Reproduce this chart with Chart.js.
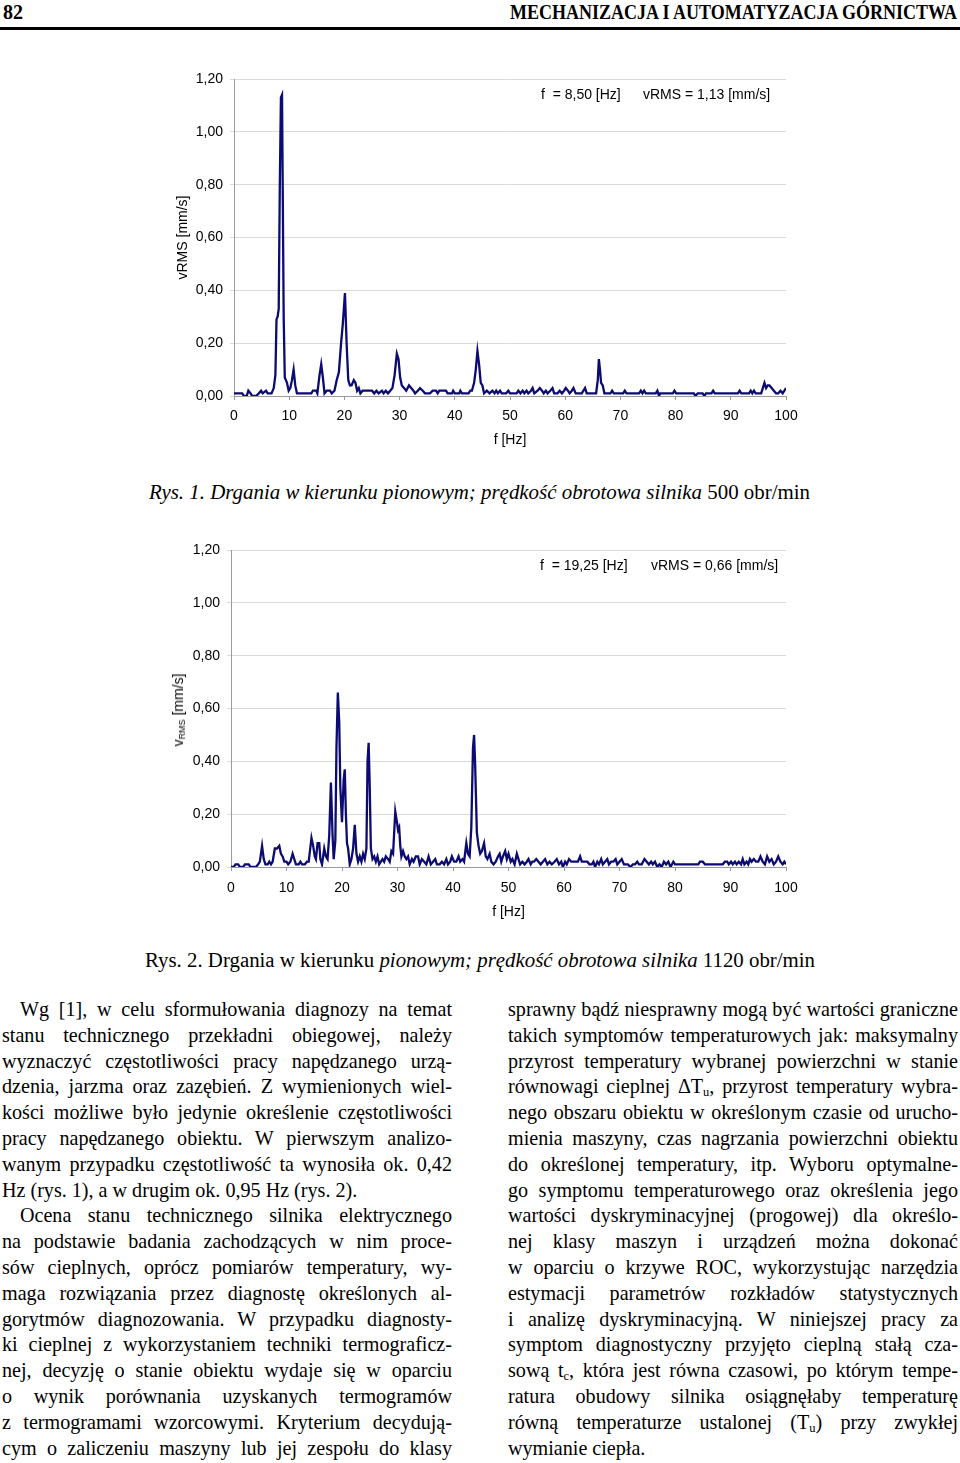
<!DOCTYPE html>
<html><head><meta charset="utf-8">
<script src="https://cdn.jsdelivr.net/npm/chart.js@4.4.1/dist/chart.umd.min.js"></script>
<style>
html,body{margin:0;padding:0;background:#fff}
body{width:960px;height:1463px;position:relative;overflow:hidden;font-family:"Liberation Serif","Times New Roman",serif;color:#000}
.abs{position:absolute}
.fit{white-space:nowrap;transform-origin:0 50%;display:inline-block}
.hdr{font-weight:bold;font-size:20px;line-height:24px;top:0}
.rule{left:0;top:27px;width:960px;height:3px;background:#000}
.cap{font-size:20px;line-height:24px}
.ann{font-family:"Liberation Sans",Arial,sans-serif;font-size:14px;line-height:16px;white-space:nowrap}
.ytit{font-family:"Liberation Sans",Arial,sans-serif;font-size:14px;white-space:nowrap;transform:translate(-50%,-50%) rotate(-90deg)}
.ytit sub{font-size:9px;vertical-align:-2px;line-height:0}
canvas{position:absolute}
.col{position:absolute;top:997px;transform-origin:0 0}
.ln{height:25.8px;line-height:25.8px;font-size:21px;text-align:justify;text-align-last:justify;white-space:nowrap;overflow:visible}
.ln.last{text-align:left;text-align-last:left}
.ln sub{font-size:13px;line-height:0;vertical-align:-3px}
</style>
</head><body>

<div class="abs hdr" style="left:3px">82</div>
<div class="abs hdr fit" id="hdrR" style="left:510px">MECHANIZACJA I AUTOMATYZACJA GÓRNICTWA</div>
<div class="abs rule"></div>

<canvas id="c1" width="660" height="400" style="left:160px;top:60px;width:660px;height:400px"></canvas>
<div class="abs ann" style="left:541px;top:86px">f&nbsp; = 8,50 [Hz]</div>
<div class="abs ann" style="left:643px;top:86px">vRMS = 1,13 [mm/s]</div>
<div class="abs cap fit" id="cap1" style="left:149px;top:480px"><i>Rys. 1. Drgania w kierunku pionowym; prędkość obrotowa silnika</i> 500 obr/min</div>

<canvas id="c2" width="664" height="400" style="left:156px;top:530px;width:664px;height:400px"></canvas>
<div class="abs ytit" style="left:178px;top:710px">v<sub>RMS</sub> [mm/s]</div>
<div class="abs ann" style="left:540px;top:557px">f&nbsp; = 19,25 [Hz]</div>
<div class="abs ann" style="left:651px;top:557px">vRMS = 0,66 [mm/s]</div>
<div class="abs cap fit" id="cap2" style="left:145px;top:948px">Rys. 2. Drgania w kierunku <i>pionowym; prędkość obrotowa silnika</i> 1120 obr/min</div>

<div class="col" id="colL" style="left:2px"></div>
<div class="col" id="colR" style="left:508px"></div>

<script>
// ---------- DATA ----------
const xTicks = [0,10,20,30,40,50,60,70,80,90,100];
const yTicks = [0,0.2,0.4,0.6,0.8,1.0,1.2];

// Rys. 1 – 500 obr/min
const freq1 = [0,1.0,1.5,1.8,2.3,2.6,3.0,3.3,4.0,4.5,4.9,5.2,5.8,6.1,6.8,7.2,7.5,7.7,7.9,8.1,8.3,8.5,8.7,9.0,9.2,9.4,9.6,9.9,10.2,10.5,10.8,11.1,11.4,12.0,13.0,14.0,14.3,14.9,15.1,15.5,15.8,16.1,16.4,16.8,17.4,17.7,18.2,18.6,19.0,19.4,19.7,19.9,20.1,20.4,20.7,21.0,21.3,21.7,22.0,22.3,22.6,22.9,23.3,24.0,25.0,25.4,25.8,26.2,26.8,27.1,27.5,27.9,28.3,28.7,29.1,29.5,29.8,30.1,30.4,30.8,31.2,31.7,32.1,32.5,32.8,33.3,33.7,34.2,34.6,35.5,36.0,36.6,36.9,37.2,38.4,38.7,39.5,39.7,40.0,40.8,41.0,41.3,42.5,42.8,43.1,43.5,43.8,44.1,44.4,44.7,45.0,45.3,45.8,46.3,46.8,47.2,47.5,47.8,48.2,48.5,49.3,49.7,50.0,51.2,51.5,51.9,52.3,52.6,53.0,53.3,53.8,54.1,54.4,55.0,55.4,55.8,56.1,56.5,56.8,57.3,57.7,58.0,58.6,59.0,59.4,59.8,60.1,60.5,60.8,61.2,61.5,61.9,63.0,63.3,63.6,63.9,65.6,65.9,66.1,66.3,66.5,66.8,67.1,68.2,68.5,68.8,70.5,70.8,71.1,73.4,73.7,74.0,74.3,74.6,76.4,76.7,77.0,77.2,79.5,79.8,80.1,83.3,83.6,84.0,84.9,85.2,85.5,86.5,86.8,87.1,91.3,91.6,91.9,93.3,93.6,93.9,94.2,94.5,95.5,95.8,96.1,96.4,96.7,97.0,97.4,97.8,98.2,98.6,99.0,99.4,100];
const vrms1 = [0.01,0.01,0.01,0.00,0.00,0.02,0.01,0.00,0.00,0.01,0.02,0.01,0.02,0.01,0.01,0.03,0.08,0.29,0.30,0.33,0.80,1.13,1.14,0.30,0.07,0.06,0.05,0.02,0.03,0.06,0.10,0.04,0.01,0.01,0.01,0.01,0.02,0.02,0.01,0.08,0.12,0.07,0.01,0.02,0.02,0.01,0.02,0.06,0.09,0.20,0.27,0.33,0.39,0.20,0.06,0.04,0.04,0.06,0.05,0.02,0.03,0.01,0.02,0.02,0.02,0.01,0.02,0.01,0.02,0.01,0.02,0.01,0.02,0.03,0.08,0.16,0.14,0.07,0.04,0.03,0.02,0.04,0.03,0.02,0.01,0.02,0.03,0.02,0.01,0.01,0.02,0.02,0.01,0.02,0.02,0.01,0.01,0.02,0.01,0.01,0.02,0.01,0.01,0.02,0.02,0.05,0.10,0.17,0.12,0.05,0.04,0.01,0.02,0.01,0.02,0.01,0.02,0.01,0.02,0.01,0.01,0.02,0.01,0.01,0.02,0.01,0.02,0.01,0.02,0.01,0.02,0.03,0.01,0.02,0.03,0.02,0.01,0.02,0.01,0.02,0.03,0.01,0.01,0.02,0.01,0.02,0.03,0.02,0.01,0.02,0.03,0.01,0.01,0.02,0.03,0.01,0.01,0.06,0.14,0.10,0.05,0.04,0.01,0.01,0.02,0.01,0.01,0.02,0.01,0.01,0.02,0.01,0.02,0.01,0.01,0.02,0.00,0.01,0.01,0.02,0.01,0.01,0.00,0.01,0.01,0.00,0.01,0.01,0.02,0.01,0.01,0.02,0.01,0.01,0.02,0.01,0.02,0.01,0.01,0.03,0.05,0.03,0.04,0.04,0.03,0.02,0.01,0.01,0.02,0.01,0.03];

// Rys. 2 – 1120 obr/min
const freq2 = [0.0,0.5,0.8,1.3,1.6,2.2,2.5,3.2,3.5,4.5,4.9,5.2,5.6,5.9,6.2,6.6,6.9,7.2,7.5,7.9,8.3,8.7,9.0,9.3,9.6,10.0,10.3,10.7,11.1,11.4,11.7,12.2,12.5,12.8,13.3,13.7,14.0,14.5,14.8,15.1,15.3,15.6,15.9,16.1,16.4,16.8,17.1,17.4,17.7,18.0,18.3,18.5,18.8,19.0,19.25,19.5,19.7,20.0,20.3,20.5,20.7,20.9,21.1,21.4,21.7,22.0,22.3,22.6,22.9,23.2,23.5,23.8,24.1,24.4,24.6,24.8,25.0,25.2,25.5,25.8,26.1,26.4,26.7,27.0,27.3,27.6,27.9,28.3,28.6,28.9,29.2,29.6,29.9,30.1,30.3,30.5,30.7,31.0,31.3,31.6,31.9,32.2,32.6,32.9,33.3,33.7,34.0,34.4,34.8,35.2,35.6,36.0,36.4,36.8,37.1,37.6,38.0,38.4,38.8,39.1,39.5,39.8,40.2,40.6,41.0,41.3,41.7,42.0,42.4,42.7,43.0,43.3,43.6,43.8,44.0,44.3,44.6,44.9,45.2,45.6,45.9,46.2,46.6,46.9,47.3,47.7,48.1,48.4,48.7,49.0,49.4,49.7,50.0,50.4,50.7,51.1,51.5,51.8,52.1,52.5,52.9,53.3,53.6,54.0,54.3,54.6,55.0,55.4,55.8,56.2,56.6,57.0,57.4,57.8,58.3,58.7,59.1,59.5,59.8,60.2,60.5,60.9,61.3,61.6,62.0,62.5,62.9,63.2,63.8,64.2,64.6,65.0,65.3,65.6,66.0,66.3,66.7,67.0,67.4,67.8,68.1,68.5,68.9,69.3,69.6,70.0,70.4,70.8,71.5,72.0,72.4,72.8,73.2,73.5,74.0,74.5,74.9,75.3,75.7,76.0,76.4,76.8,77.2,77.6,78.0,78.4,78.8,79.2,79.7,80.0,80.5,84.2,84.5,85.0,85.4,88.6,89.0,89.4,89.7,90.1,90.4,90.8,91.1,91.5,91.9,92.2,92.5,92.9,93.2,93.5,93.8,94.2,94.6,95.0,95.4,95.8,96.2,96.6,97.0,97.4,97.8,98.2,98.6,99.0,99.4,99.7,100];
const vrms2 = [0.00,0.00,0.01,0.01,0.00,0.00,0.01,0.01,0.00,0.00,0.01,0.02,0.08,0.03,0.01,0.01,0.02,0.01,0.02,0.07,0.07,0.08,0.05,0.04,0.02,0.02,0.01,0.02,0.05,0.03,0.01,0.01,0.02,0.01,0.01,0.02,0.02,0.11,0.08,0.04,0.03,0.09,0.09,0.03,0.01,0.07,0.04,0.03,0.12,0.32,0.12,0.03,0.10,0.45,0.66,0.55,0.30,0.17,0.33,0.37,0.20,0.09,0.07,0.01,0.03,0.07,0.16,0.05,0.02,0.04,0.02,0.05,0.03,0.07,0.40,0.47,0.30,0.07,0.03,0.04,0.02,0.04,0.01,0.02,0.03,0.02,0.04,0.03,0.02,0.06,0.05,0.21,0.17,0.14,0.15,0.08,0.04,0.06,0.04,0.03,0.04,0.01,0.03,0.02,0.04,0.04,0.01,0.03,0.02,0.01,0.04,0.01,0.02,0.03,0.01,0.01,0.02,0.01,0.03,0.01,0.02,0.04,0.02,0.02,0.04,0.02,0.03,0.02,0.09,0.05,0.04,0.15,0.45,0.50,0.38,0.13,0.08,0.05,0.06,0.09,0.04,0.03,0.05,0.02,0.01,0.02,0.04,0.05,0.02,0.04,0.06,0.03,0.05,0.02,0.03,0.01,0.05,0.03,0.01,0.02,0.01,0.02,0.03,0.01,0.02,0.02,0.03,0.02,0.01,0.02,0.03,0.01,0.02,0.01,0.02,0.03,0.01,0.02,0.00,0.02,0.01,0.03,0.02,0.02,0.02,0.02,0.04,0.02,0.02,0.02,0.01,0.01,0.02,0.00,0.02,0.01,0.03,0.01,0.02,0.03,0.01,0.02,0.02,0.03,0.01,0.02,0.03,0.01,0.01,0.00,0.01,0.01,0.02,0.01,0.01,0.03,0.02,0.01,0.02,0.01,0.02,0.00,0.01,0.00,0.02,0.01,0.02,0.00,0.02,0.01,0.01,0.01,0.02,0.02,0.01,0.01,0.02,0.02,0.01,0.02,0.01,0.02,0.01,0.02,0.01,0.03,0.01,0.02,0.01,0.03,0.02,0.03,0.02,0.02,0.04,0.02,0.01,0.04,0.02,0.03,0.01,0.02,0.04,0.02,0.01,0.02,0.01];

// ---------- TEXT ----------
const leftLines = [
 ["Wg [1], w celu sformułowania diagnozy na temat",1,0],
 ["stanu technicznego przekładni obiegowej, należy",0,0],
 ["wyznaczyć częstotliwości pracy napędzanego urzą-",0,0],
 ["dzenia, jarzma oraz zazębień. Z wymienionych wiel-",0,0],
 ["kości możliwe było jedynie określenie częstotliwości",0,0],
 ["pracy napędzanego obiektu. W pierwszym analizo-",0,0],
 ["wanym przypadku częstotliwość ta wynosiła ok. 0,42",0,0],
 ["Hz (rys. 1), a w drugim ok. 0,95 Hz (rys. 2).",0,1],
 ["Ocena stanu technicznego silnika elektrycznego",1,0],
 ["na podstawie badania zachodzących w nim proce-",0,0],
 ["sów cieplnych, oprócz pomiarów temperatury, wy-",0,0],
 ["maga rozwiązania przez diagnostę określonych al-",0,0],
 ["gorytmów diagnozowania. W przypadku diagnosty-",0,0],
 ["ki cieplnej z wykorzystaniem techniki termograficz-",0,0],
 ["nej, decyzję o stanie obiektu wydaje się w oparciu",0,0],
 ["o wynik porównania uzyskanych termogramów",0,0],
 ["z termogramami wzorcowymi. Kryterium decydują-",0,0],
 ["cym o zaliczeniu maszyny lub jej zespołu do klasy",0,0]
];
const rightLines = [
 ["sprawny bądź niesprawny  mogą być wartości graniczne",0,0],
 ["takich symptomów temperaturowych jak: maksymalny",0,0],
 ["przyrost temperatury wybranej powierzchni w stanie",0,0],
 ["równowagi cieplnej ΔT<sub>u</sub>, przyrost temperatury wybra-",0,0],
 ["nego obszaru obiektu w określonym czasie od urucho-",0,0],
 ["mienia maszyny, czas nagrzania powierzchni obiektu",0,0],
 ["do określonej temperatury, itp. Wyboru optymalne-",0,0],
 ["go symptomu temperaturowego oraz określenia jego",0,0],
 ["wartości dyskryminacyjnej (progowej) dla określo-",0,0],
 ["nej klasy maszyn i urządzeń można dokonać",0,0],
 ["w oparciu o krzywe ROC, wykorzystując narzędzia",0,0],
 ["estymacji parametrów rozkładów statystycznych",0,0],
 ["i analizę dyskryminacyjną. W niniejszej pracy za",0,0],
 ["symptom diagnostyczny przyjęto cieplną stałą cza-",0,0],
 ["sową t<sub>c</sub>, która jest równa czasowi, po którym tempe-",0,0],
 ["ratura obudowy silnika osiągnęłaby temperaturę",0,0],
 ["równą temperaturze ustalonej (T<sub>u</sub>) przy zwykłej",0,0],
 ["wymianie ciepła.",0,1]
];

// ---------- CHARTS ----------
const fmt = v => Number(v).toFixed(2).replace('.', ',');
const sans = "'Liberation Sans', Arial, sans-serif";
function makeChart(id, xs, ys, o) {
  const pts = xs.map((x, i) => ({x: x, y: ys[i]}));
  return new Chart(document.getElementById(id), {
    type: 'line',
    data: {datasets: [{data: pts, borderColor: '#0b0b72', borderWidth: 2.3, pointRadius: 0, tension: 0, fill: false}]},
    options: {
      responsive: false, animation: false, events: [],
      layout: {padding: {top: o.top, right: o.right, left: 0, bottom: 0}},
      plugins: {legend: {display: false}, tooltip: {enabled: false}},
      scales: {
        x: {
          type: 'linear', min: 0, max: 100,
          afterFit: s => { s.height = o.xh; },
          afterBuildTicks: s => { s.ticks = xTicks.map(v => ({value: v})); },
          ticks: {color: '#000', font: {family: sans, size: 14}, padding: o.xtp, maxRotation: 0, autoSkip: false},
          grid: {drawOnChartArea: false, color: '#9a9a9a', tickLength: 4},
          border: {color: '#9a9a9a'},
          title: {display: true, text: 'f [Hz]', color: '#000', font: {family: sans, size: 14}, padding: {top: o.xttl, bottom: o.xttl}}
        },
        y: {
          min: 0, max: 1.2,
          afterFit: s => { s.width = o.yw; },
          afterBuildTicks: s => { s.ticks = yTicks.map(v => ({value: v})); },
          ticks: {color: '#000', font: {family: sans, size: 14}, padding: 7, callback: fmt},
          grid: {color: '#dadada', tickLength: 4},
          border: {color: '#9a9a9a'},
          title: {display: o.ytitle !== null, text: o.ytitle || '', color: '#000', font: {family: sans, size: 14}, padding: {top: o.yttl, bottom: 0}}
        }
      }
    }
  });
}
const ch1 = makeChart('c1', freq1, vrms1, {top: 19, right: 14, xh: 64, yw: 74, xtp: 8, xttl: 11.6, ytitle: 'vRMS [mm/s]', yttl: 14.6});
const ch2 = makeChart('c2', freq2, vrms2, {top: 20, right: 14, xh: 63, yw: 75, xtp: 8.5, xttl: 9.6, ytitle: null, yttl: 0});
// adjust right padding so that the plot area ends at page x = 786 (iterate: layout is not linear)
[[ch1, 160], [ch2, 156]].forEach(([ch, left]) => {
  const target = 786 - left;
  for (let k = 0; k < 6; k++) {
    const diff = ch.chartArea.right - target;
    if (Math.abs(diff) < 0.5) break;
    ch.options.layout.padding.right = Math.max(0, ch.options.layout.padding.right + diff);
    ch.update('none');
  }
});

// ---------- TEXT LAYOUT ----------
function fitX(id, target) {
  const el = document.getElementById(id);
  const w = el.getBoundingClientRect().width;
  el.style.transform = 'scaleX(' + (target / w) + ')';
}
fitX('hdrR', 447);
fitX('cap1', 661);
fitX('cap2', 670);

const meas = document.createElement('span');
meas.style.cssText = "position:absolute;visibility:hidden;white-space:nowrap;font-size:21px;font-family:'Liberation Serif','Times New Roman',serif;left:0;top:0";
document.body.appendChild(meas);
function natural(html) { meas.innerHTML = html; return meas.getBoundingClientRect().width; }
let s = 370 / natural(leftLines[7][0]);
const INDENT = 18;
[...leftLines, ...rightLines].forEach(l => {
  const need = natural(l[0]) + (l[1] ? INDENT / s : 0);
  if (need * s > 449) s = 449 / need;
});
function buildCol(id, lines) {
  const col = document.getElementById(id);
  col.style.width = (450 / s) + 'px';
  col.style.transform = 'scaleX(' + s + ')';
  lines.forEach(l => {
    const d = document.createElement('div');
    d.className = 'ln' + (l[2] ? ' last' : '');
    if (l[1]) d.style.paddingLeft = (INDENT / s) + 'px';
    d.innerHTML = l[0];
    col.appendChild(d);
  });
}
buildCol('colL', leftLines);
buildCol('colR', rightLines);
</script>
</body></html>
